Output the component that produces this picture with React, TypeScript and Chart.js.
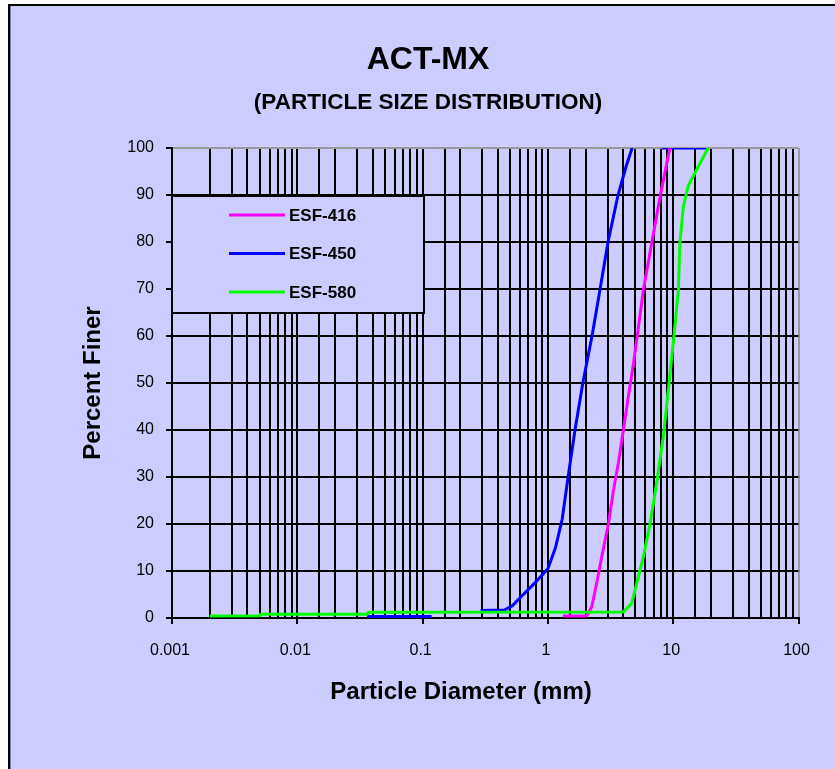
import React, { useEffect, useRef } from 'react';
import { Chart, registerables } from 'chart.js';

Chart.register(...registerables);

// ---------- text ----------
const TITLE = 'ACT-MX';
const SUBTITLE = '(PARTICLE SIZE DISTRIBUTION)';
const X_TITLE = 'Particle Diameter (mm)';
const Y_TITLE = 'Percent Finer';

// ---------- axes ----------
const X_MIN = 0.001;
const X_MAX = 100;
const X_TICK_VALUES = [0.001, 0.01, 0.1, 1, 10, 100];
const X_TICK_LABELS = ['0.001', '0.01', '0.1', '1', '10', '100'];
const Y_MIN = 0;
const Y_MAX = 100;
const Y_STEP = 10;

// ---------- series ----------
const SERIES_LABELS = ['ESF-416', 'ESF-450', 'ESF-580'];
const SERIES_COLORS = ['#ff00ff', '#0000ff', '#00ff00'];

const esf416Diameter = [1.32, 2.04, 2.24, 2.45, 2.69, 3.04, 3.33, 3.65, 4.0, 4.38, 4.81, 5.18, 5.78, 6.73, 7.85, 9.4];
const esf416Percent = [0.4, 0.4, 2.4, 7.4, 13, 20, 27, 33, 40, 47, 54, 60.3, 69.8, 79.7, 89.6, 100];

const esf450Diameter = [0.036, 0.118, 0.2, 0.29, 0.45, 0.52, 0.6, 0.77, 1.0, 1.15, 1.3, 1.45, 1.645, 1.9, 2.25, 2.61, 3.02, 3.63, 4.2, 4.7, 6.0, 8.1, 19];
const esf450Percent = [0.3, 0.3, null, 1.6, 1.7, 2.6, 4.3, 7.2, 10.5, 15, 21, 30, 40, 50, 60, 70, 80, 90, 96, 100, null, 100, 100];

const esf580Diameter = [0.002, 0.005, 0.0051, 0.036, 0.037, 4.0, 4.67, 5.12, 5.78, 6.53, 7.38, 8.34, 9.14, 10.1, 11.0, 11.3, 12.05, 13.2, 19];
const esf580Percent = [0.4, 0.5, 0.8, 0.8, 1.2, 1.3, 3.1, 7.4, 13, 20, 28.7, 38.6, 48.5, 59.5, 69.8, 79.7, 87.5, 92, 100];

const SERIES_DIAMETERS = [esf416Diameter, esf450Diameter, esf580Diameter];
const SERIES_PERCENTS = [esf416Percent, esf450Percent, esf580Percent];
const SERIES_ORDER = [1, 2, 0];

const FONT = '"Liberation Sans", Arial, Helvetica, sans-serif';
const BG = '#ccccff';

function isDecade(v: number) {
  const l = Math.log10(v);
  return Math.abs(l - Math.round(l)) < 1e-6;
}

export default function App() {
  const ref = useRef<HTMLCanvasElement>(null);

  useEffect(() => {
    const canvas = ref.current;
    if (!canvas) return;

    const framePlugin = {
      id: 'frame',
      beforeDraw(chart: any) {
        const { ctx, width, height } = chart;
        ctx.save();
        ctx.fillStyle = '#ffffff';
        ctx.fillRect(0, 0, width, height);
        ctx.fillStyle = '#000000';
        ctx.fillRect(8, 4, width - 8, 2);
        ctx.fillRect(8, 4, 2, height - 4);
        ctx.fillStyle = '#7a7aa8';
        ctx.fillRect(10, 6, 1, height - 6);
        ctx.fillStyle = BG;
        ctx.fillRect(11, 6, width - 11, height - 6);
        ctx.restore();
      },
    };

    const xTitlePlugin = {
      id: 'xTitle',
      afterDraw(chart: any) {
        const { ctx, chartArea } = chart;
        ctx.save();
        ctx.fillStyle = '#000';
        ctx.font = `bold 24px ${FONT}`;
        ctx.textAlign = 'center';
        ctx.textBaseline = 'middle';
        ctx.fillText(X_TITLE, chartArea.left + 289, chartArea.bottom + 74);
        ctx.restore();
      },
    };

    const legendPlugin = {
      id: 'boxLegend',
      afterDatasetsDraw(chart: any) {
        const { ctx, chartArea } = chart;
        const x0 = chartArea.left;
        const y0 = chartArea.top + 48;
        const w = 252;
        const h = 117;
        ctx.save();
        ctx.fillStyle = BG;
        ctx.fillRect(x0, y0, w, h);
        ctx.strokeStyle = '#000';
        ctx.lineWidth = 2;
        ctx.strokeRect(x0, y0, w, h);
        ctx.font = `bold 17px ${FONT}`;
        ctx.textBaseline = 'middle';
        ctx.textAlign = 'left';
        chart.data.datasets.forEach((ds: any, i: number) => {
          const y = y0 + 19 + i * 38.5;
          ctx.strokeStyle = ds.borderColor;
          ctx.lineWidth = 3;
          ctx.beginPath();
          ctx.moveTo(x0 + 57, y);
          ctx.lineTo(x0 + 113, y);
          ctx.stroke();
          ctx.fillStyle = '#000';
          ctx.fillText(ds.label, x0 + 117, y + 1);
        });
        ctx.restore();
      },
    };

    const datasets = SERIES_LABELS.map((label, i) => ({
      label,
      data: SERIES_DIAMETERS[i].map((d, j) => ({ x: d, y: SERIES_PERCENTS[i][j] })),
      borderColor: SERIES_COLORS[i],
      backgroundColor: SERIES_COLORS[i],
      borderWidth: 3,
      pointRadius: 0,
      tension: 0,
      spanGaps: false,
      order: SERIES_ORDER[i],
    }));

    const chart = new Chart(canvas, {
      type: 'line',
      data: { datasets },
      plugins: [framePlugin, legendPlugin, xTitlePlugin],
      options: {
        animation: false,
        responsive: false,
        devicePixelRatio: 1,
        font: { family: FONT },
        layout: { padding: { left: 57.5, right: 36.5, top: 0, bottom: 0 } },
        plugins: {
          legend: { display: false },
          tooltip: { enabled: false },
          title: {
            display: true,
            text: TITLE,
            color: '#000',
            font: { family: FONT, size: 32, weight: 'bold', lineHeight: 1.2 },
            padding: { top: 40.8, bottom: 0 },
          },
          subtitle: {
            display: true,
            text: SUBTITLE,
            color: '#000',
            font: { family: FONT, size: 22.5, weight: 'bold', lineHeight: 1.2 },
            padding: { top: 10.3, bottom: 31.5 },
          },
        },
        scales: {
          x: {
            type: 'logarithmic',
            min: X_MIN,
            max: X_MAX,
            afterFit: (scale: any) => {
              scale.height = 151;
            },
            border: { display: true, color: '#000', width: 2 },
            grid: {
              color: (c: any) => (c.tick && c.tick.value >= X_MAX ? '#999999' : '#000000'),
              lineWidth: 2,
              drawTicks: true,
              tickLength: 6,
              tickWidth: 2,
              tickColor: (c: any) => (c.tick && isDecade(c.tick.value) ? '#000000' : 'rgba(0,0,0,0)'),
            },
            ticks: {
              autoSkip: false,
              maxRotation: 0,
              minRotation: 0,
              padding: 17,
              labelOffset: -2,
              color: '#000',
              font: { family: FONT, size: 16 },
              callback: (value: any) => {
                const v = Number(value);
                const idx = X_TICK_VALUES.findIndex((t) => Math.abs(Math.log10(t) - Math.log10(v)) < 1e-6);
                return idx >= 0 ? X_TICK_LABELS[idx] : '';
              },
            },
            title: { display: false },
          },
          y: {
            type: 'linear',
            min: Y_MIN,
            max: Y_MAX,
            afterFit: (scale: any) => {
              scale.width = 114.5;
            },
            border: { display: true, color: '#000', width: 2 },
            grid: {
              color: (c: any) => (c.tick && c.tick.value >= Y_MAX ? '#999999' : '#000000'),
              lineWidth: 2,
              drawTicks: true,
              tickLength: 6,
              tickWidth: 2,
              tickColor: '#000000',
            },
            ticks: {
              stepSize: Y_STEP,
              padding: 12,
              color: '#000',
              font: { family: FONT, size: 16 },
            },
            title: {
              display: true,
              text: Y_TITLE,
              color: '#000',
              font: { family: FONT, size: 24, weight: 'bold', lineHeight: 1.2 },
              padding: { top: 21.1, bottom: 0 },
            },
          },
        },
      } as any,
    });

    return () => {
      chart.destroy();
    };
  }, []);

  return (
    <div style={{ position: 'absolute', left: 0, top: 0, width: 835, height: 769 }}>
      <canvas ref={ref} width={835} height={769} style={{ display: 'block', width: 835, height: 769 }} />
    </div>
  );
}
